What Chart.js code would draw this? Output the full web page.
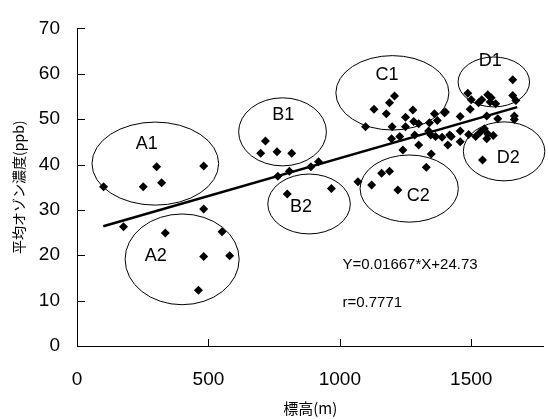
<!DOCTYPE html>
<html>
<head>
<meta charset="utf-8">
<script src="https://cdn.jsdelivr.net/npm/chart.js@4.4.1/dist/chart.umd.min.js"></script>
<style>
  html, body { margin: 0; padding: 0; background: #fff; }
  #wrap { width: 548px; height: 419px; }
</style>
</head>
<body>
<div id="wrap"><canvas id="ozoneChart" width="548" height="419"></canvas></div>
<script>
// 標高 (m) と 平均オゾン濃度 (ppb)
const elevation = [
  101, 252, 303, 322, 482,
  177, 336, 482, 552, 482, 581, 462,
  717, 699, 761, 817,
  764, 808, 800, 890, 919, 968,
  1069, 1121, 1159, 1189, 1221, 1329,
  1348, 1240, 1300, 1197, 1228, 1285, 1098, 1199, 1250, 1130,
  1177, 1189, 1208, 1250, 1278, 1281, 1300, 1341, 1360, 1398,
  1371, 1338, 1346, 1364, 1389, 1418, 1411, 1458, 1458, 1458,
  1490, 1496, 1487, 1500, 1528, 1540, 1563, 1576, 1593, 1559,
  1601, 1658, 1658, 1670, 1664, 1664, 1517, 1534, 1550, 1563,
  1584, 1559, 1543, 1424, 1402, 1572
];
const ozone = [
  35.1, 35.1, 39.5, 36.0, 39.7,
  26.3, 24.9, 30.2, 25.2, 19.7, 19.9, 12.3,
  45.2, 42.5, 42.8, 42.5,
  37.4, 38.5, 33.5, 39.5, 40.6, 34.7,
  36.2, 35.5, 38.1, 38.5, 34.4, 39.4,
  42.3, 43.2, 44.3, 45.7, 46.2, 46.5, 48.3, 48.3, 48.3, 52.2,
  51.2, 53.6, 55.1, 50.4, 52.0, 49.5, 49.0, 49.2, 51.2, 51.4,
  49.7, 47.4, 46.5, 46.2, 46.0, 46.5, 44.3, 50.6, 47.4, 45.0,
  46.6, 52.2, 55.7, 54.3, 53.6, 54.3, 55.4, 54.7, 53.4, 50.7,
  50.1, 58.7, 55.2, 54.1, 50.7, 49.9, 46.2, 47.1, 47.9, 46.7,
  46.4, 45.7, 41.0, 46.2, 51.6, 53.8
];

// 回帰式
const slope = 0.01667;
const intercept = 24.73;
const fitRange = [100, 1675];

// グループ (楕円: 中心 x, 中心 y, 半径 x, 半径 y / ラベル位置)
const groupNames = ['A1', 'A2', 'B1', 'B2', 'C1', 'C2', 'D1', 'D2'];
const groupEllipses = [
  [298, 40.2, 241, 9.15],
  [400, 19.1, 217, 10.0],
  [782, 47.2, 167, 7.5],
  [883, 31.3, 157, 6.6],
  [1200, 55.8, 215, 8.2],
  [1264, 34.7, 187, 7.4],
  [1586, 58.2, 136, 5.5],
  [1625, 42.9, 155, 6.5]
];
const groupLabelPos = [
  [265, 44.6], [300, 19.9], [785, 51.0], [852, 30.7],
  [1180, 59.8], [1298, 33.0], [1572, 62.9], [1641, 41.4]
];

const eqText = 'Y=0.01667*X+24.73';
const rText = 'r=0.7771';
const eqPos = [1010, 17.8];
const rPos = [1010, 9.6];

const xTicks = [0, 500, 1000, 1500];

const points = elevation.map((x, i) => ({ x: x, y: ozone[i] }));
const fitLine = fitRange.map(x => ({ x: x, y: slope * x + intercept }));

// 楕円・ラベル・内向き目盛り
const overlayPlugin = {
  id: 'overlay',
  afterDatasetsDraw(chart) {
    const ctx = chart.ctx;
    const xs = chart.scales.x;
    const ys = chart.scales.y;
    ctx.save();

    // 内向きの目盛り
    ctx.strokeStyle = '#000';
    ctx.lineWidth = 1;
    ctx.beginPath();
    xs.ticks.forEach(t => {
      const px = Math.round(xs.getPixelForValue(t.value)) + 0.5;
      ctx.moveTo(px, ys.bottom);
      ctx.lineTo(px, ys.bottom - 7);
    });
    ys.ticks.forEach(t => {
      const py = Math.round(ys.getPixelForValue(t.value)) + 0.5;
      ctx.moveTo(xs.left, py);
      ctx.lineTo(xs.left + 8, py);
    });
    ctx.stroke();

    // 楕円
    ctx.lineWidth = 1;
    groupEllipses.forEach(e => {
      const cx = xs.getPixelForValue(e[0]);
      const cy = ys.getPixelForValue(e[1]);
      const rx = Math.abs(xs.getPixelForValue(e[0] + e[2]) - cx);
      const ry = Math.abs(ys.getPixelForValue(e[1] + e[3]) - cy);
      ctx.beginPath();
      ctx.ellipse(cx, cy, rx, ry, 0, 0, Math.PI * 2);
      ctx.stroke();
    });

    // グループ名
    ctx.fillStyle = '#000';
    ctx.font = '18px "Liberation Sans", Arial, sans-serif';
    ctx.textAlign = 'center';
    ctx.textBaseline = 'middle';
    groupNames.forEach((name, i) => {
      const p = groupLabelPos[i];
      ctx.fillText(name, xs.getPixelForValue(p[0]), ys.getPixelForValue(p[1]));
    });

    // 回帰式と相関係数
    ctx.font = '15px "Liberation Sans", Arial, sans-serif';
    ctx.textAlign = 'left';
    ctx.fillText(eqText, xs.getPixelForValue(eqPos[0]), ys.getPixelForValue(eqPos[1]));
    ctx.fillText(rText, xs.getPixelForValue(rPos[0]), ys.getPixelForValue(rPos[1]));

    ctx.restore();
  }
};

const ctxOzone = document.getElementById('ozoneChart').getContext('2d');
new Chart(ctxOzone, {
  type: 'scatter',
  data: {
    datasets: [
      {
        label: '観測値',
        data: points,
        pointStyle: 'rectRot',
        pointRadius: 4.5,
        pointHoverRadius: 4.5,
        backgroundColor: '#000',
        borderColor: '#000',
        borderWidth: 0
      },
      {
        label: '回帰直線',
        type: 'line',
        data: fitLine,
        borderColor: '#000',
        borderWidth: 2.5,
        pointRadius: 0,
        fill: false
      }
    ]
  },
  options: {
    responsive: false,
    animation: false,
    layout: { padding: { top: 15, right: 2, left: 0, bottom: 0 } },
    plugins: {
      legend: { display: false },
      tooltip: { enabled: false }
    },
    scales: {
      x: {
        type: 'linear',
        min: 0,
        max: 1775,
        afterBuildTicks: scale => {
          scale.ticks = xTicks.map(v => ({ value: v }));
        },
        afterFit: scale => { scale.height = 73; },
        grid: { display: false, drawTicks: false },
        border: { display: true, color: '#000', width: 1 },
        ticks: {
          color: '#000',
          padding: 22,
          callback: v => String(v),
          font: { family: '"Liberation Sans", Arial, sans-serif', size: 19 }
        },
        title: {
          display: true,
          text: '標高(m)',
          color: '#000',
          padding: { top: 0, bottom: 2 },
          font: { family: '"Noto Sans CJK JP", sans-serif', size: 15 }
        }
      },
      y: {
        min: 0,
        max: 70,
        afterFit: scale => { scale.width = 77; },
        grid: { display: false, drawTicks: false },
        border: { display: true, color: '#000', width: 1 },
        ticks: {
          stepSize: 10,
          color: '#000',
          padding: 17,
          font: { family: '"Liberation Sans", Arial, sans-serif', size: 19 }
        },
        title: {
          display: true,
          text: '平均オゾン濃度(ppb)',
          color: '#000',
          padding: { top: 10, bottom: 0 },
          font: { family: '"Noto Sans CJK JP", sans-serif', size: 14 }
        }
      }
    }
  },
  plugins: [overlayPlugin]
});
</script>
</body>
</html>
